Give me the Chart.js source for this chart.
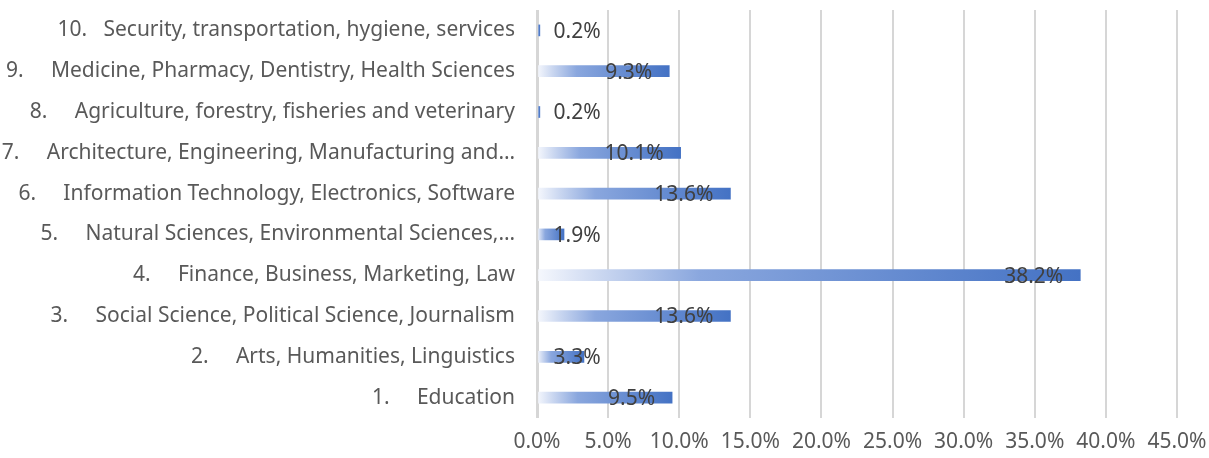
<!DOCTYPE html>
<html>
<head>
<meta charset="utf-8">
<script src="https://cdn.jsdelivr.net/npm/chart.js@4"></script>
<style>
  html, body { margin: 0; padding: 0; background: #ffffff; }
  #wrap { width: 1209px; height: 458px; position: relative; }
</style>
</head>
<body>
<div id="wrap"><canvas id="c"></canvas></div>
<script>
// ---- data (bottom to top) ----
const numbers = ['1.', '2.', '3.', '4.', '5.', '6.', '7.', '8.', '9.', '10.'];
const names = [
  'Education',
  'Arts, Humanities, Linguistics',
  'Social Science, Political Science, Journalism',
  'Finance, Business, Marketing, Law',
  'Natural Sciences, Environmental Sciences,…',
  'Information Technology, Electronics, Software',
  'Architecture, Engineering, Manufacturing and…',
  'Agriculture, forestry, fisheries and veterinary',
  'Medicine, Pharmacy, Dentistry, Health Sciences',
  'Security, transportation, hygiene, services'
];
const shares = [9.5, 3.3, 13.6, 38.2, 1.9, 13.6, 10.1, 0.2, 9.3, 0.2];
const xTicks = [0, 5, 10, 15, 20, 25, 30, 35, 40, 45];

const NB = '\u00a0';
const categories = numbers.map((n, i) => n + NB.repeat(n.length > 2 ? 3 : 5) + names[i]);

const FONT = "'Noto Sans', 'Open Sans', sans-serif";
const FS = 21;

function barGradient(context) {
  const chart = context.chart;
  if (!chart.chartArea || context.parsed === undefined) return '#4472c4';
  const xs = chart.scales.x;
  const x0 = xs.getPixelForValue(0);
  const x1 = xs.getPixelForValue(context.parsed.x);
  if (x1 - x0 < 1) return '#4472c4';
  const g = chart.ctx.createLinearGradient(x0, 0, x1, 0);
  g.addColorStop(0, '#f6f8fd');
  g.addColorStop(0.12, '#c9d6f0');
  g.addColorStop(0.3, '#8aa7de');
  g.addColorStop(1, '#4472c4');
  return g;
}

const labelPlugin = {
  id: 'barLabels',
  afterDatasetsDraw(chart) {
    const ctx = chart.ctx;
    const meta = chart.getDatasetMeta(0);
    ctx.save();
    ctx.font = FS + 'px ' + FONT;
    ctx.fillStyle = '#404040';
    ctx.textAlign = 'left';
    ctx.textBaseline = 'middle';
    meta.data.forEach((el, i) => {
      const p = el.getProps(['x', 'y', 'base'], true);
      const txt = shares[i].toFixed(1) + '%';
      const w = ctx.measureText(txt).width;
      let left = p.x - 17 - w;
      if (left < p.base + 15) left = p.base + 15;
      ctx.fillText(txt, left, p.y + 1.5);
    });
    ctx.restore();
  }
};

new Chart(document.getElementById('c'), {
  type: 'bar',
  data: {
    labels: categories,
    datasets: [{
      data: shares,
      backgroundColor: barGradient,
      borderWidth: 0,
      barThickness: 11
    }]
  },
  options: {
    indexAxis: 'y',
    responsive: true,
    maintainAspectRatio: false,
    animation: false,
    layout: { padding: { left: 0, right: 32, top: 10, bottom: 5 } },
    plugins: { legend: { display: false }, tooltip: { enabled: false } },
    scales: {
      x: {
        min: 0, max: 45,
        afterBuildTicks(scale) { scale.ticks = xTicks.map(v => ({ value: v })); },
        afterFit(scale) {
          scale.height = 35;
          scale.paddingLeft = 0;
          scale.paddingRight = 0;
        },
        ticks: {
          callback: v => Number(v).toFixed(1) + '%',
          color: '#595959',
          font: { family: FONT, size: FS },
          padding: 11,
          maxRotation: 0
        },
        grid: {
          color: '#d6d6d6',
          lineWidth: ctx => (ctx.tick && ctx.tick.value === 0 ? 3 : 2),
          drawTicks: false
        },
        border: { display: false }
      },
      y: {
        reverse: true,
        afterFit(scale) {
          scale.width = 537;
          scale.paddingTop = 0;
          scale.paddingBottom = 0;
        },
        ticks: {
          color: '#595959',
          font: { family: FONT, size: FS },
          padding: 22,
          autoSkip: false
        },
        grid: { display: false, drawTicks: false },
        border: { display: false }
      }
    }
  },
  plugins: [labelPlugin]
});
</script>
</body>
</html>
